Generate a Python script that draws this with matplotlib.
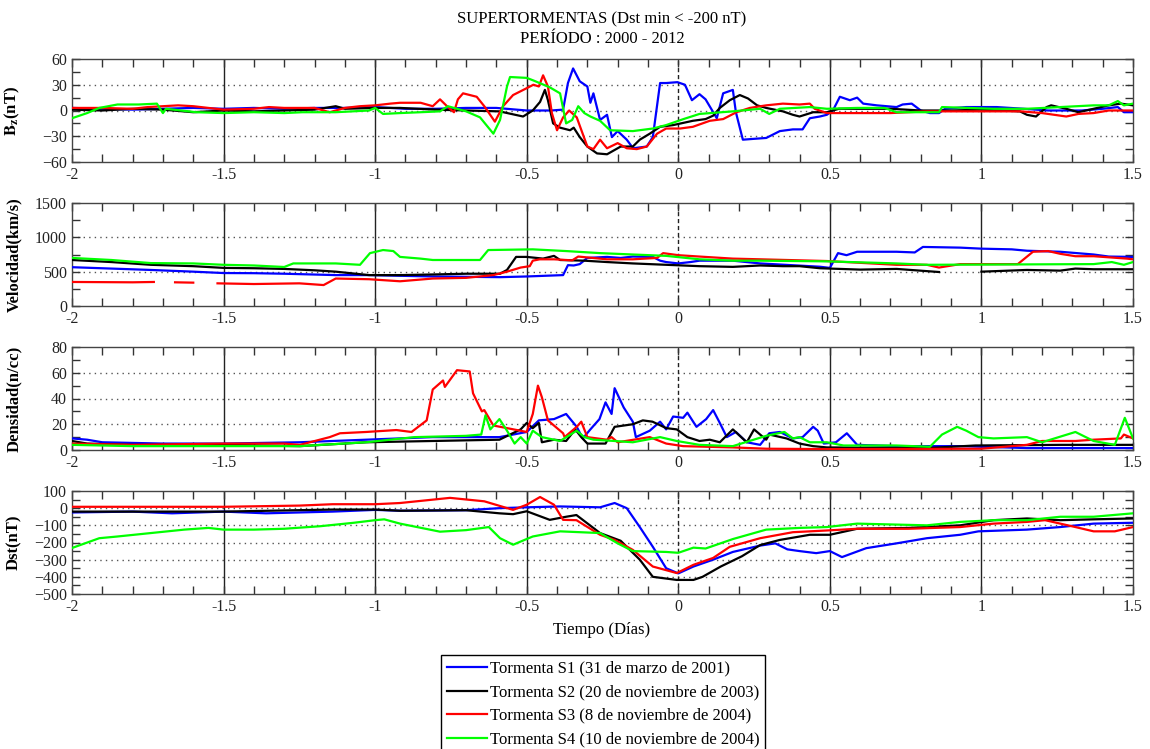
import numpy as np
import matplotlib
matplotlib.use('Agg')
from matplotlib import pyplot as plt
from matplotlib.ticker import MultipleLocator

plt.rcParams['font.family'] = ['Liberation Serif', 'DejaVu Serif']
plt.rcParams['mathtext.fontset'] = 'stix'

# (tiempo en dias, valor)
bz_s1 = [(-2, 3), (-1.9, 2), (-1.8, 1), (-1.7, 2), (-1.6, 3), (-1.5, 2), (-1.4, 3), (-1.3, 2), (-1.2, 3),
         (-1.1, 3), (-1.0, 4), (-0.9, 2), (-0.8, 2), (-0.7, 3), (-0.6, 3), (-0.5, 0), (-0.42, 0), (-0.38, 1),
         (-0.364, 32), (-0.347, 49), (-0.325, 34), (-0.30, 28), (-0.29, 9), (-0.28, 20), (-0.258, -11),
         (-0.235, -5), (-0.219, -31), (-0.20, -24), (-0.17, -34), (-0.149, -44), (-0.104, -42), (-0.084, -31),
         (-0.06, 32), (-0.04, 32), (-0.003, 33), (0.022, 30), (0.045, 12), (0.07, 19), (0.09, 13), (0.127, -9),
         (0.148, 20), (0.18, 24), (0.19, -2), (0.213, -34), (0.25, -33), (0.29, -32), (0.335, -24), (0.378, -22),
         (0.41, -22), (0.434, -9), (0.467, -7), (0.49, -5), (0.51, 0), (0.533, 16), (0.566, 12), (0.59, 15),
         (0.61, 8), (0.655, 6), (0.72, 4), (0.74, 7), (0.77, 8), (0.80, 0), (0.83, -3), (0.86, -3), (0.88, 2),
         (0.95, 4), (1.0, 4), (1.05, 4), (1.14, 2), (1.22, 0), (1.33, 0), (1.40, 2), (1.45, 4), (1.47, -2), (1.5, -2)]
bz_s2 = [(-2, 1), (-1.9, 0), (-1.8, 2), (-1.7, 1), (-1.6, -2), (-1.5, 0), (-1.4, -1), (-1.3, 0), (-1.2, 1),
         (-1.13, 5), (-1.1, 2), (-1.0, 3), (-0.918, 3), (-0.8, 1), (-0.7, 0), (-0.59, -1), (-0.512, -7),
         (-0.48, 0), (-0.456, 10), (-0.44, 24), (-0.43, 12), (-0.413, -15), (-0.39, -20), (-0.357, -23),
         (-0.345, -20), (-0.325, -31), (-0.30, -42), (-0.268, -50), (-0.235, -51), (-0.19, -42), (-0.15, -42),
         (-0.127, -34), (-0.094, -27), (-0.06, -19), (-0.017, -17), (0.048, -12), (0.09, -10), (0.115, -6),
         (0.137, 3), (0.17, 12), (0.203, 18), (0.23, 14), (0.26, 6), (0.29, 3), (0.345, -1), (0.378, -5),
         (0.40, -7), (0.445, -2), (0.49, -2), (0.53, 2), (0.59, 2), (0.7, 2), (0.80, 0), (0.9, 0), (1.0, 1),
         (1.127, -1), (1.15, -5), (1.18, -7), (1.215, 4), (1.23, 6), (1.28, 2), (1.32, -2), (1.37, 2),
         (1.42, 6), (1.46, 8), (1.5, 6)]
bz_s3 = [(-2, 3), (-1.9, 3), (-1.8, 2), (-1.75, 4), (-1.65, 6), (-1.6, 5), (-1.5, 1), (-1.4, 2), (-1.35, 4),
         (-1.3, 3), (-1.2, 3), (-1.15, -2), (-1.1, 3), (-1.05, 5), (-1.0, 6), (-0.95, 8), (-0.918, 9),
         (-0.85, 9), (-0.81, 5), (-0.786, 13), (-0.76, 4), (-0.74, -2), (-0.727, 13), (-0.71, 20), (-0.665, 16),
         (-0.64, 5), (-0.605, -13), (-0.578, 5), (-0.545, 18), (-0.50, 26), (-0.478, 30), (-0.46, 28),
         (-0.446, 41), (-0.43, 28), (-0.417, -3), (-0.40, -23), (-0.38, -8), (-0.36, 0), (-0.335, -8),
         (-0.30, -42), (-0.28, -45), (-0.258, -34), (-0.235, -44), (-0.20, -38), (-0.17, -44), (-0.137, -45),
         (-0.104, -42), (-0.07, -27), (-0.04, -21), (0.006, -21), (0.048, -19), (0.104, -12), (0.148, -10),
         (0.192, -2), (0.236, 3), (0.29, 6), (0.345, 8), (0.40, 7), (0.434, 8), (0.45, 2), (0.49, -3),
         (0.59, -3), (0.7, -3), (0.82, -1), (0.93, -1), (1.04, -1), (1.13, -1), (1.20, -3), (1.24, -5),
         (1.28, -7), (1.32, -4), (1.37, -3), (1.42, 0), (1.5, 0)]
bz_s4 = [(-2, -9), (-1.95, -3), (-1.91, 3), (-1.85, 7), (-1.78, 7), (-1.72, 8), (-1.70, -3), (-1.69, 2),
         (-1.59, -2), (-1.5, -3), (-1.4, -2), (-1.3, -3), (-1.24, -2), (-1.13, -2), (-1.02, 0), (-1.0, 3),
         (-0.974, -4), (-0.918, -3), (-0.85, -2), (-0.786, -1), (-0.76, 5), (-0.70, -1), (-0.654, -8),
         (-0.61, -27), (-0.588, -11), (-0.565, 28), (-0.555, 39), (-0.50, 38), (-0.478, 35), (-0.424, 27),
         (-0.39, 20), (-0.37, -15), (-0.35, -11), (-0.33, 5), (-0.31, -3), (-0.29, -7), (-0.258, -12),
         (-0.225, -23), (-0.15, -24), (-0.084, -21), (-0.04, -17), (0.017, -10), (0.07, -4), (0.18, -1),
         (0.27, 2), (0.30, -4), (0.335, 2), (0.434, 4), (0.49, 2), (0.59, 3), (0.68, 3), (0.72, -2),
         (0.81, -2), (0.86, -2), (0.87, 4), (1.04, 2), (1.15, 2), (1.26, 4), (1.37, 6), (1.42, 6), (1.45, 11),
         (1.47, 6), (1.5, 8)]

nan = np.nan
vel_s1 = [(-2, 565), (-1.87, 545), (-1.74, 525), (-1.6, 500), (-1.5, 480), (-1.4, 478), (-1.3, 470),
          (-1.13, 450), (-1.02, 450), (-0.918, 440), (-0.81, 430), (-0.7, 425), (-0.588, 420), (-0.50, 430),
          (-0.38, 450), (-0.364, 595), (-0.345, 590), (-0.325, 610), (-0.30, 700), (-0.235, 715), (-0.19, 700),
          (-0.15, 720), (-0.084, 715), (-0.06, 660), (-0.04, 640), (0.0, 620), (0.04, 640), (0.07, 660),
          (0.18, 660), (0.27, 620), (0.467, 572), (0.50, 555), (0.527, 770), (0.555, 740), (0.59, 790),
          (0.72, 790), (0.78, 780), (0.807, 860), (0.93, 850), (1.0, 835), (1.10, 825), (1.15, 805),
          (1.26, 790), (1.37, 750), (1.42, 720), (1.5, 715)]
vel_s2 = [(-2, 670), (-1.87, 640), (-1.74, 600), (-1.6, 580), (-1.5, 555), (-1.4, 550), (-1.3, 540),
          (-1.2, 520), (-1.13, 500), (-1.02, 450), (-0.918, 450), (-0.8, 460), (-0.70, 470), (-0.588, 470),
          (-0.565, 525), (-0.535, 715), (-0.50, 715), (-0.446, 690), (-0.41, 730), (-0.39, 670), (-0.31, 660),
          (-0.235, 640), (-0.15, 620), (-0.04, 600), (0.07, 580), (0.18, 570), (0.27, 590), (0.345, 580),
          (0.40, 580), (0.467, 550), (0.5, 545), (0.6, 530), (0.72, 540), (0.86, 495), (0.861, nan),
          (0.99, nan), (1.0, 500), (1.15, 525), (1.26, 515), (1.31, 545), (1.37, 535), (1.5, 535)]
vel_s3 = [(-2, 350), (-1.8, 345), (-1.73, 350), (-1.729, nan), (-1.661, nan), (-1.66, 345), (-1.6, 340),
          (-1.599, nan), (-1.521, nan), (-1.52, 330), (-1.4, 320), (-1.25, 330), (-1.17, 305), (-1.13, 400),
          (-1.02, 390), (-0.918, 360), (-0.81, 400), (-0.70, 410), (-0.61, 450), (-0.565, 500), (-0.52, 560),
          (-0.49, 580), (-0.48, 660), (-0.457, 680), (-0.41, 680), (-0.35, 665), (-0.33, 720), (-0.235, 680),
          (-0.15, 680), (-0.07, 700), (-0.05, 770), (0.0, 740), (0.07, 720), (0.18, 690), (0.27, 680),
          (0.49, 655), (0.72, 600), (0.82, 600), (0.86, 560), (0.93, 610), (1.12, 610), (1.15, 718),
          (1.17, 790), (1.22, 800), (1.26, 760), (1.31, 725), (1.37, 725), (1.48, 690), (1.5, 680)]
vel_s4 = [(-2, 700), (-1.87, 670), (-1.74, 625), (-1.6, 620), (-1.5, 600), (-1.4, 590), (-1.30, 568),
          (-1.27, 620), (-1.13, 620), (-1.05, 600), (-1.017, 770), (-0.974, 815), (-0.94, 800), (-0.918, 715),
          (-0.85, 690), (-0.81, 670), (-0.654, 670), (-0.627, 815), (-0.48, 825), (-0.37, 800), (-0.258, 770),
          (-0.15, 750), (-0.04, 730), (0.07, 680), (0.18, 660), (0.27, 660), (0.49, 650), (0.6, 636),
          (0.72, 620), (0.82, 600), (1.37, 610), (1.43, 640), (1.47, 600), (1.5, 640)]

den_s1 = [(-2, 9), (-1.95, 8), (-1.9, 6), (-1.7, 5), (-1.5, 5), (-1.25, 6), (-1.03, 8), (-0.81, 10),
          (-0.59, 10), (-0.50, 14), (-0.46, 23), (-0.41, 24), (-0.37, 28), (-0.335, 18), (-0.315, 9),
          (-0.29, 16), (-0.26, 24), (-0.24, 37), (-0.22, 28), (-0.21, 48), (-0.18, 33), (-0.15, 22),
          (-0.14, 10), (-0.094, 15), (-0.06, 22), (-0.04, 16), (-0.017, 26), (0.016, 25), (0.03, 29),
          (0.06, 18), (0.092, 24), (0.115, 31), (0.137, 21), (0.16, 10), (0.19, 14), (0.226, 6), (0.27, 4),
          (0.30, 13), (0.335, 14), (0.378, 9), (0.41, 10), (0.445, 18), (0.46, 15), (0.48, 5), (0.52, 6),
          (0.556, 13), (0.59, 4), (0.72, 3), (0.93, 3), (1.15, 1.5), (1.5, 1.5)]
den_s2 = [(-2, 7), (-1.95, 5), (-1.8, 4), (-1.5, 4), (-1.248, 3), (-1.03, 6), (-0.81, 7), (-0.59, 8),
          (-0.52, 16), (-0.50, 21), (-0.48, 17), (-0.46, 21), (-0.45, 6), (-0.41, 8), (-0.37, 7), (-0.34, 16),
          (-0.32, 10), (-0.30, 5), (-0.24, 5), (-0.21, 18), (-0.15, 20), (-0.117, 23), (-0.085, 22),
          (-0.04, 17), (-0.005, 16), (0.03, 10), (0.07, 7), (0.104, 8), (0.137, 6), (0.18, 16), (0.226, 6),
          (0.25, 16), (0.29, 8), (0.30, 12), (0.357, 9), (0.40, 5), (0.445, 3), (0.49, 2), (0.82, 1.5),
          (0.98, 3.5), (1.26, 4), (1.5, 4)]
den_s3 = [(-2, 5), (-1.8, 4), (-1.5, 5), (-1.3, 5), (-1.248, 4), (-1.15, 10), (-1.116, 13), (-1.03, 14),
          (-0.93, 15.5), (-0.88, 14), (-0.83, 23), (-0.81, 47), (-0.776, 54), (-0.77, 49), (-0.73, 62),
          (-0.688, 61), (-0.677, 44), (-0.648, 30), (-0.64, 31), (-0.61, 19), (-0.565, 17), (-0.50, 14),
          (-0.48, 28), (-0.463, 50), (-0.45, 41), (-0.43, 23), (-0.38, 13), (-0.375, 10), (-0.335, 18),
          (-0.32, 22), (-0.30, 10), (-0.236, 8), (-0.22, 10), (-0.20, 6), (-0.094, 10), (-0.04, 5), (0.016, 3),
          (0.18, 2), (0.29, 1), (0.49, 0.7), (1.0, 1), (1.15, 4), (1.2, 7), (1.31, 7), (1.37, 8), (1.46, 9),
          (1.47, 12), (1.5, 9)]
den_s4 = [(-2, 4), (-1.8, 3), (-1.5, 3), (-1.248, 3), (-1.03, 6), (-0.87, 10), (-0.70, 11), (-0.65, 12),
          (-0.636, 27), (-0.62, 16), (-0.59, 24), (-0.565, 15), (-0.54, 5), (-0.52, 10), (-0.50, 5), (-0.48, 15),
          (-0.45, 10), (-0.39, 7), (-0.335, 15), (-0.31, 10), (-0.28, 8), (-0.21, 7), (-0.15, 6), (-0.06, 10),
          (-0.005, 7), (0.07, 4), (0.18, 3), (0.29, 11), (0.33, 13), (0.35, 14), (0.378, 9), (0.40, 10),
          (0.434, 6), (0.49, 6), (0.545, 3.5), (0.72, 3.5), (0.83, 2.5), (0.87, 12), (0.92, 18), (0.95, 15),
          (0.99, 10), (1.04, 9), (1.15, 10), (1.20, 6), (1.31, 14), (1.37, 7), (1.44, 4), (1.473, 25), (1.5, 9)]

dst_s1 = [(-2, -25), (-1.8, -20), (-1.67, -30), (-1.5, -20), (-1.36, -30), (-1.14, -20), (-1.0, -10),
          (-0.918, -15), (-0.70, -12), (-0.59, 0), (-0.50, 5), (-0.39, 10), (-0.258, 5), (-0.21, 30),
          (-0.17, 0), (-0.127, -110), (-0.084, -225), (-0.04, -350), (0.0, -380), (0.05, -340), (0.115, -300),
          (0.18, -255), (0.27, -218), (0.32, -205), (0.36, -240), (0.40, -250), (0.455, -262), (0.50, -250),
          (0.54, -285), (0.62, -233), (0.72, -205), (0.82, -175), (0.93, -155), (0.99, -135), (1.15, -125),
          (1.26, -110), (1.37, -90), (1.5, -85)]
dst_s2 = [(-2, -20), (-1.5, -20), (-1.14, -8), (-1.0, -8), (-0.918, -15), (-0.70, -12), (-0.59, -30),
          (-0.545, -35), (-0.50, -18), (-0.424, -68), (-0.37, -50), (-0.336, -40), (-0.258, -145),
          (-0.19, -190), (-0.127, -300), (-0.084, -400), (-0.005, -418), (0.05, -418), (0.08, -400),
          (0.14, -340), (0.21, -280), (0.27, -215), (0.335, -185), (0.434, -155), (0.50, -155), (0.59, -120),
          (0.76, -115), (0.93, -100), (1.04, -70), (1.15, -60), (1.26, -70), (1.37, -65), (1.5, -60)]
dst_s3 = [(-2, 8), (-1.5, 8), (-1.25, 15), (-1.14, 23), (-1.0, 23), (-0.918, 30), (-0.753, 60), (-0.64, 40),
          (-0.545, -10), (-0.50, 20), (-0.456, 65), (-0.41, 20), (-0.38, -68), (-0.336, -70), (-0.258, -155),
          (-0.21, -185), (-0.15, -243), (-0.084, -340), (-0.005, -378), (0.05, -330), (0.115, -290),
          (0.17, -225), (0.27, -175), (0.378, -140), (0.49, -130), (0.59, -120), (0.76, -120), (0.93, -110),
          (1.04, -90), (1.15, -80), (1.21, -70), (1.31, -110), (1.37, -135), (1.44, -135), (1.5, -110)]
dst_s4 = [(-2, -232), (-1.91, -175), (-1.85, -165), (-1.74, -145), (-1.63, -125), (-1.55, -115), (-1.5, -125),
          (-1.4, -125), (-1.30, -120), (-1.18, -105), (-1.07, -85), (-1.0, -70), (-0.97, -65), (-0.918, -90),
          (-0.786, -137), (-0.70, -128), (-0.625, -110), (-0.588, -175), (-0.545, -213), (-0.48, -165),
          (-0.39, -135), (-0.258, -145), (-0.20, -205), (-0.15, -250), (-0.04, -255), (0.0, -260), (0.05, -230),
          (0.09, -235), (0.18, -180), (0.29, -125), (0.40, -115), (0.49, -110), (0.59, -90), (0.82, -100),
          (0.93, -80), (1.04, -70), (1.15, -70), (1.26, -50), (1.37, -50), (1.5, -30)]

colores = ['#0000ff', '#000000', '#ff0000', '#00ff00']
etiquetas = ['Tormenta S1 (31 de marzo de 2001)', 'Tormenta S2 (20 de noviembre de 2003)',
             'Tormenta S3 (8 de noviembre de 2004)', 'Tormenta S4 (10 de noviembre de 2004)']

paneles = [
    ([bz_s1, bz_s2, bz_s3, bz_s4], r'$\mathbf{B_z}$(nT)', (-60, 60), 30, 15, [-30, 0, 30]),
    ([vel_s1, vel_s2, vel_s3, vel_s4], 'Velocidad(km/s)', (0, 1500), 500, 250, [500, 1000]),
    ([den_s1, den_s2, den_s3, den_s4], 'Densidad(n/cc)', (0, 80), 20, 10, [20, 40, 60]),
    ([dst_s1, dst_s2, dst_s3, dst_s4], 'Dst(nT)', (-500, 100), 100, 50, [0, -100, -200, -300, -400]),
]

W, H = 1150, 749
fig = plt.figure(figsize=(W / 100, H / 100), dpi=100)
tops = [59, 203, 347, 491]
izq, der, alto = 72, 1133, 103
lineas = []
for (series, ylab, ylim, ymaj, ymin, grid_y), top in zip(paneles, tops):
    ax = fig.add_axes([izq / W, 1 - (top + alto) / H, (der - izq) / W, alto / H])
    for gy in grid_y:
        ax.axhline(gy, color='#555555', lw=1, ls=(0, (1, 3)), zorder=1)
    for gx in [-1.5, -1, -0.5, 0.5, 1]:
        ax.axvline(gx, color='#222222', lw=1, zorder=1)
    ax.axvline(0, color='#222222', lw=1, ls=(0, (3, 2)), zorder=1)
    lineas = []
    for datos, c in zip(series, colores):
        arr = np.array(datos, dtype=float)
        l, = ax.plot(arr[:, 0], arr[:, 1], color=c, lw=1.6, zorder=3)
        lineas.append(l)
    ax.set_xlim(-2, 1.5)
    ax.set_ylim(*ylim)
    ax.xaxis.set_major_locator(MultipleLocator(0.5))
    ax.xaxis.set_minor_locator(MultipleLocator(0.1))
    ax.yaxis.set_major_locator(MultipleLocator(ymaj))
    ax.yaxis.set_minor_locator(MultipleLocator(ymin))
    ax.xaxis.set_major_formatter(plt.FuncFormatter(lambda v, p: ('%g' % v)))
    ax.tick_params(which='both', direction='in', top=True, right=True, labelsize=11.5,
                   colors='#333333', labelcolor='#222222', length=6, width=1)
    for s in ax.spines.values():
        s.set_color('#444444')
        s.set_linewidth(1)
    ax.set_ylabel(ylab, fontsize=12, fontweight='bold')
    ax.yaxis.set_label_coords(-0.047, 0.5)

fig.text(602 / W, 1 - 19 / H, 'SUPERTORMENTAS (Dst min < -200 nT)', ha='center', va='center', fontsize=12)
fig.text(602 / W, 1 - 39 / H, 'PERÍODO : 2000 - 2012', ha='center', va='center', fontsize=12)
fig.text(602 / W, 1 - 630 / H, 'Tiempo (Días)', ha='center', va='center', fontsize=12)

leg = fig.legend(lineas, etiquetas, loc='upper center', bbox_to_anchor=(603 / W, 1 - 655 / H),
                 fontsize=12, frameon=True, fancybox=False, edgecolor='black', framealpha=1,
                 handlelength=2.4, handletextpad=0.2, labelspacing=0.45, borderpad=0.35, borderaxespad=0)
leg.get_frame().set_linewidth(1)

fig.savefig('out.png', dpi=100)
